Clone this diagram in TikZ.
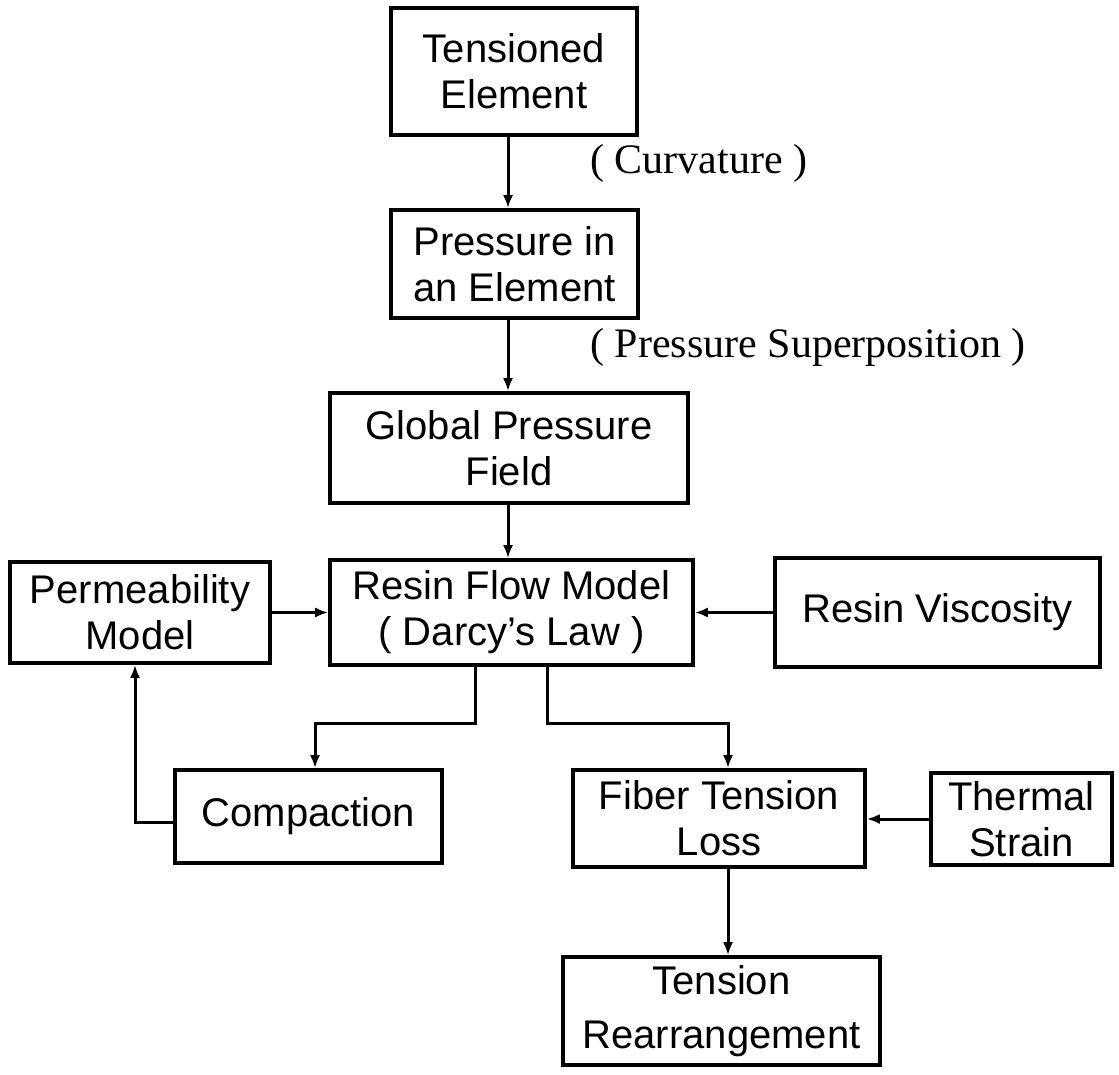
\documentclass[tikz,border=0pt]{standalone}
\usepackage{fontspec}
\setmainfont{Liberation Sans}
\newfontfamily\lblfont{Liberation Serif}
\usetikzlibrary{arrows.meta}
\begin{document}
\begin{tikzpicture}[x=0.5pt,y=-0.5pt,
  box/.style={draw, line width=1.8pt, inner sep=0pt, align=center, font=\fontsize{20}{23}\selectfont},
  arr/.style={line width=1.5pt, -{Latex[length=6.5pt,width=5pt]}},
  lbl/.style={font=\lblfont\fontsize{21}{24}\selectfont, anchor=west, inner sep=0pt}]
\useasboundingbox (0,0) rectangle (1119,1075);
\node[box, minimum width=123pt, minimum height=63.5pt] (T) at (514,71.5) {Tensioned\\Element};
\node[box, minimum width=123.5pt, minimum height=54pt] (P) at (514.5,264) {Pressure in\\an Element};
\node[box, minimum width=179pt, minimum height=55pt] (G) at (509,448) {Global Pressure\\Field};
\node[box, minimum width=181.5pt, minimum height=52.5pt] (R) at (511.5,612.5) {Resin Flow Model\\( Darcy's Law )};
\node[box, minimum width=130pt, minimum height=50.5pt] (Pm) at (140,612.5) {Permeability\\Model};
\node[box, minimum width=162.5pt, minimum height=54.5pt] (V) at (937.5,612.5) {Resin Viscosity};
\node[box, minimum width=133.5pt, minimum height=46.5pt] (C) at (308.5,816.5) {Compaction};
\node[box, minimum width=146pt, minimum height=48.5pt] (F) at (719,818.5) {Fiber Tension\\Loss};
\node[box, minimum width=90.5pt, minimum height=46pt] (Th) at (1021.5,819) {Thermal\\Strain};
\node[box, minimum width=158.5pt, minimum height=54pt, font=\fontsize{20}{27}\selectfont] (TR) at (721.5,1011) {Tension\\Rearrangement};
\node[lbl] (l1) at (590,163) {( Curvature )};
\node[lbl] (l2) at (590,347) {( Pressure Superposition )};
\coordinate (kx) at (508,0);
\coordinate (kL) at (475,723);
\coordinate (kC) at (315,723);
\coordinate (kR) at (547,723);
\coordinate (kF) at (728,723);
\coordinate (kP) at (135,822);
\draw[arr] (T.south -| kx) -- (P.north -| kx);
\draw[arr] (P.south -| kx) -- (G.north -| kx);
\draw[arr] (G.south -| kx) -- (R.north -| kx);
\draw[arr] (Pm.east) -- (R.west |- Pm.east);
\draw[arr] (V.west) -- (R.east |- V.west);
\draw[arr] (R.south -| kL) |- (kC) -- (C.north -| kC);
\draw[arr] (R.south -| kR) |- (kF) -- (F.north -| kF);
\draw[arr] (C.west |- kP) -- (kP) -- (Pm.south -| kP);
\draw[arr] (Th.west) -- (F.east |- Th.west);
\draw[arr] (F.south -| kF) -- (TR.north -| kF);
\end{tikzpicture}
\end{document}
